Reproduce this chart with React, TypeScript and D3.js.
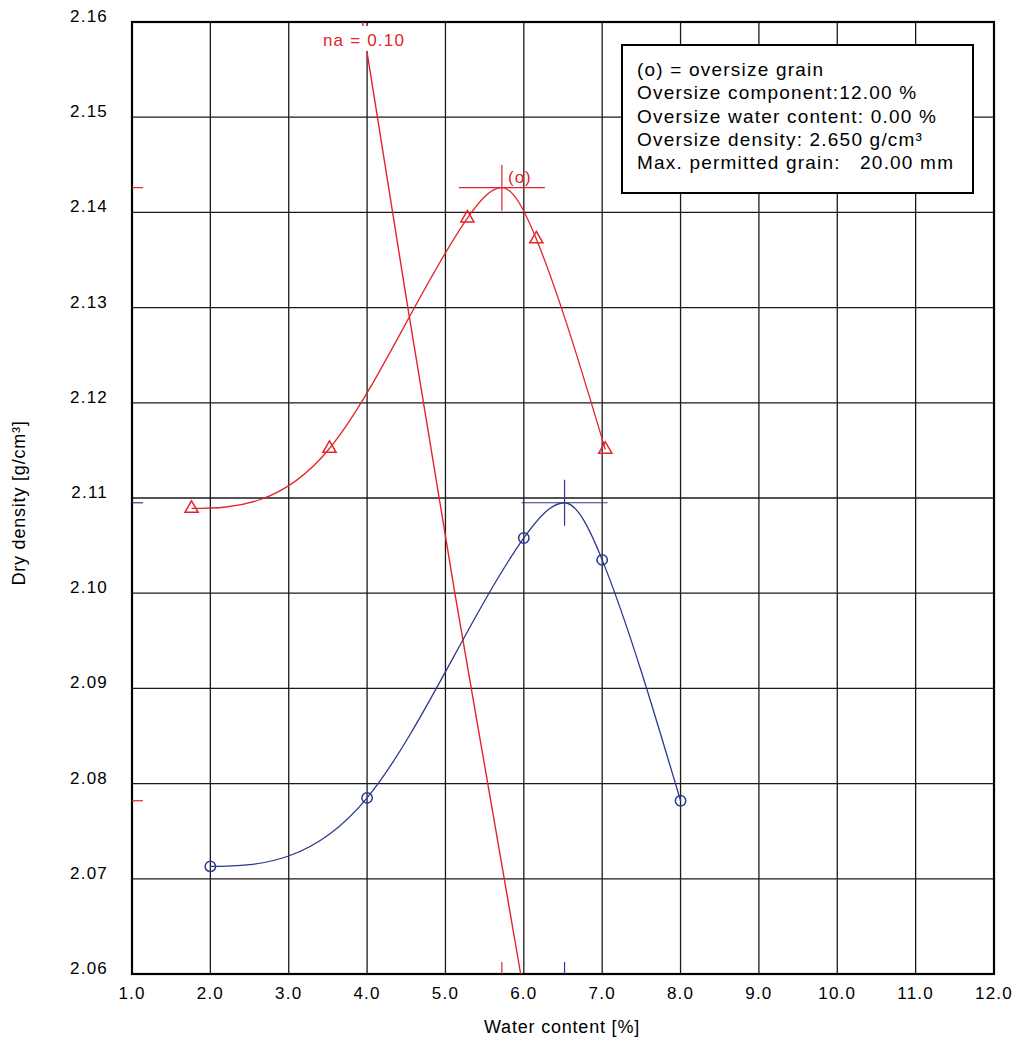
import React, { useEffect, useRef } from 'react';
import * as d3 from 'd3';

const RED = '#e3242b';
const BLUE = '#2b3990';

const xTicks = [1, 2, 3, 4, 5, 6, 7, 8, 9, 10, 11, 12];
const yTicks = [2.06, 2.07, 2.08, 2.09, 2.10, 2.11, 2.12, 2.13, 2.14, 2.15, 2.16];

// measured proctor points (blue circles)
const measuredW = [2.0, 4.0, 6.0, 7.0, 8.0];
const measuredRho = [2.0713, 2.0785, 2.1058, 2.1035, 2.0782];
const measuredMax = { w: 6.52, rho: 2.1095 };

// oversize corrected points (red triangles)
const correctedW = [1.76, 3.52, 5.28, 6.16, 7.04];
const correctedRho = [2.1089, 2.1152, 2.1394, 2.1372, 2.1151];
const correctedMax = { w: 5.72, rho: 2.1426 };

// air void line na = 0.10
const naW = [3.94, 4.0, 4.52, 5.12, 5.54, 5.96];
const naRho = [2.16, 2.1568, 2.13, 2.10, 2.08, 2.06];

// small marks on the axes
const leftMarks = [
  { v: 2.1426, c: RED },
  { v: 2.1095, c: BLUE },
  { v: 2.0782, c: RED },
];
const bottomMarks = [
  { v: 5.72, c: RED },
  { v: 6.52, c: BLUE },
];

const legendLines = [
  '(o) = oversize grain',
  'Oversize component:12.00 %',
  'Oversize water content: 0.00 %',
  'Oversize density: 2.650 g/cm³',
  'Max. permitted grain:   20.00 mm',
];

const W = 1016;
const H = 1041;
const FONT = '"Liberation Sans", Arial, Helvetica, sans-serif';

type Pt = [number, number];

// cubic spline tangents; start/end = fixed slope, or null for a natural end
function splineTangents(p: Pt[], start: number | null, end: number | null): number[] {
  const n = p.length;
  const h: number[] = [];
  const d: number[] = [];
  for (let i = 0; i < n - 1; i++) {
    h.push(p[i + 1][0] - p[i][0]);
    d.push((p[i + 1][1] - p[i][1]) / h[i]);
  }
  const A: number[][] = Array.from({ length: n }, () => new Array(n).fill(0));
  const b: number[] = new Array(n).fill(0);
  if (start === null) { A[0][0] = 2; A[0][1] = 1; b[0] = 3 * d[0]; } else { A[0][0] = 1; b[0] = start; }
  for (let i = 1; i < n - 1; i++) {
    A[i][i - 1] = 1 / h[i - 1];
    A[i][i] = 2 * (1 / h[i - 1] + 1 / h[i]);
    A[i][i + 1] = 1 / h[i];
    b[i] = 3 * (d[i - 1] / h[i - 1] + d[i] / h[i]);
  }
  if (end === null) { A[n - 1][n - 2] = 1; A[n - 1][n - 1] = 2; b[n - 1] = 3 * d[n - 2]; } else { A[n - 1][n - 1] = 1; b[n - 1] = end; }
  // gaussian elimination
  for (let i = 0; i < n; i++) {
    for (let k = i + 1; k < n; k++) {
      const f = A[k][i] / A[i][i];
      if (!f) continue;
      for (let j = i; j < n; j++) A[k][j] -= f * A[i][j];
      b[k] -= f * b[i];
    }
  }
  const m = new Array(n).fill(0);
  for (let i = n - 1; i >= 0; i--) {
    let s = b[i];
    for (let j = i + 1; j < n; j++) s -= A[i][j] * m[j];
    m[i] = s / A[i][i];
  }
  return m;
}

function addSpline(path: d3.Path, p: Pt[], start: number | null, end: number | null, move: boolean) {
  const m = splineTangents(p, start, end);
  if (move) path.moveTo(p[0][0], p[0][1]);
  for (let i = 0; i < p.length - 1; i++) {
    const dx = (p[i + 1][0] - p[i][0]) / 3;
    path.bezierCurveTo(
      p[i][0] + dx, p[i][1] + m[i] * dx,
      p[i + 1][0] - dx, p[i + 1][1] - m[i + 1] * dx,
      p[i + 1][0], p[i + 1][1],
    );
  }
}

export default function App() {
  const svgRef = useRef<SVGSVGElement>(null);

  useEffect(() => {
    if (!svgRef.current) return;
    const svg = d3.select(svgRef.current);
    svg.selectAll('*').remove();

    const margin = { top: 22, right: 22, bottom: 67, left: 132 };
    const x = d3.scaleLinear().domain([1, 12]).range([margin.left, W - margin.right]);
    const y = d3.scaleLinear().domain([2.06, 2.16]).range([H - margin.bottom, margin.top]);

    svg.append('rect').attr('width', W).attr('height', H).attr('fill', '#fff');

    // grid
    const grid = svg.append('g');
    grid.selectAll('.vx')
      .data(xTicks)
      .enter().append('line')
      .attr('x1', d => x(d)).attr('x2', d => x(d))
      .attr('y1', y(2.16)).attr('y2', y(2.06))
      .attr('stroke', '#1a1a1a').attr('stroke-width', 1.3);
    grid.selectAll('.hy')
      .data(yTicks)
      .enter().append('line')
      .attr('y1', d => y(d)).attr('y2', d => y(d))
      .attr('x1', x(1)).attr('x2', x(12))
      .attr('stroke', '#1a1a1a').attr('stroke-width', 1.3);

    // frame
    svg.append('rect')
      .attr('x', x(1)).attr('y', y(2.16))
      .attr('width', x(12) - x(1)).attr('height', y(2.06) - y(2.16))
      .attr('fill', 'none').attr('stroke', '#000').attr('stroke-width', 2.2);

    // tick labels
    svg.selectAll('.xl')
      .data(xTicks)
      .enter().append('text')
      .attr('x', d => x(d)).attr('y', 999)
      .attr('text-anchor', 'middle')
      .style('font-family', FONT).style('font-size', '17px').style('letter-spacing', '1.2px')
      .text(d => d.toFixed(1));
    svg.selectAll('.yl')
      .data(yTicks)
      .enter().append('text')
      .attr('x', 108).attr('y', d => y(d))
      .attr('text-anchor', 'end')
      .style('font-family', FONT).style('font-size', '17px').style('letter-spacing', '1.2px')
      .text(d => d.toFixed(2));

    // axis titles
    svg.append('text')
      .attr('x', 562).attr('y', 1033)
      .attr('text-anchor', 'middle')
      .style('font-family', FONT).style('font-size', '18px').style('letter-spacing', '0.8px')
      .text('Water content [%]');
    svg.append('text')
      .attr('transform', `translate(25,${503}) rotate(-90)`)
      .attr('text-anchor', 'middle')
      .style('font-family', FONT).style('font-size', '18px').style('letter-spacing', '0.8px')
      .text('Dry density [g/cm³]');

    // axis marks
    svg.selectAll('.lm')
      .data(leftMarks)
      .enter().append('line')
      .attr('x1', x(1)).attr('x2', x(1) + 11)
      .attr('y1', d => y(d.v)).attr('y2', d => y(d.v))
      .attr('stroke', d => d.c).attr('stroke-width', 1.2);
    svg.selectAll('.bm')
      .data(bottomMarks)
      .enter().append('line')
      .attr('x1', d => x(d.v)).attr('x2', d => x(d.v))
      .attr('y1', y(2.06)).attr('y2', y(2.06) - 12)
      .attr('stroke', d => d.c).attr('stroke-width', 1.2);

    const line = d3.line<Pt>()
      .x(d => x(d[0])).y(d => y(d[1]))
      .curve(d3.curveMonotoneX);

    // na line
    const naPts = naW.map((w, i) => [w, naRho[i]] as Pt);
    svg.append('path')
      .attr('d', line(naPts))
      .attr('fill', 'none').attr('stroke', RED).attr('stroke-width', 1.4);

    // na label
    svg.append('rect')
      .attr('x', 318).attr('y', 26).attr('width', 92).attr('height', 25)
      .attr('fill', '#fff');
    svg.append('text')
      .attr('x', 364).attr('y', 46)
      .attr('text-anchor', 'middle').attr('fill', RED)
      .style('font-family', FONT).style('font-size', '17px').style('letter-spacing', '1.2px')
      .text('na = 0.10');

    const drawSeries = (
      ws: number[], rhos: number[], mx: { w: number; rho: number }, color: string, marker: 'circle' | 'triangle',
    ) => {
      const pts = ws.map((w, i) => [w, rhos[i]] as Pt);
      const px = (d: Pt): Pt => [x(d[0]), y(d[1])];
      const left = pts.filter(d => d[0] < mx.w).map(px);
      const right = pts.filter(d => d[0] > mx.w).map(px);
      const peak = px([mx.w, mx.rho]);
      const p = d3.path();
      addSpline(p, [...left, peak], 0, 0, true);
      addSpline(p, [peak, ...right], 0, null, false);
      svg.append('path')
        .attr('d', p.toString())
        .attr('fill', 'none').attr('stroke', color).attr('stroke-width', 1.3);

      // cross at maximum
      const [cx, cy] = peak;
      svg.append('line')
        .attr('x1', cx - 43).attr('x2', cx + 43).attr('y1', cy).attr('y2', cy)
        .attr('stroke', color).attr('stroke-width', 1.2);
      svg.append('line')
        .attr('x1', cx).attr('x2', cx).attr('y1', cy - 23).attr('y2', cy + 23)
        .attr('stroke', color).attr('stroke-width', 1.2);

      if (marker === 'circle') {
        svg.selectAll(null)
          .data(pts)
          .enter().append('circle')
          .attr('cx', d => x(d[0])).attr('cy', d => y(d[1])).attr('r', 5.2)
          .attr('fill', 'none').attr('stroke', color).attr('stroke-width', 1.5);
      } else {
        const sym = d3.symbol().type(d3.symbolTriangle).size(75);
        svg.selectAll(null)
          .data(pts)
          .enter().append('path')
          .attr('d', sym()!)
          .attr('transform', d => `translate(${x(d[0])},${y(d[1])})`)
          .attr('fill', 'none').attr('stroke', color).attr('stroke-width', 1.5);
      }
    };

    drawSeries(measuredW, measuredRho, measuredMax, BLUE, 'circle');
    drawSeries(correctedW, correctedRho, correctedMax, RED, 'triangle');

    // (o) label
    svg.append('text')
      .attr('x', 508).attr('y', 183)
      .attr('fill', RED)
      .style('font-family', FONT).style('font-size', '17px').style('letter-spacing', '1px')
      .text('(o)');

    // legend box
    const lg = svg.append('g');
    lg.append('rect')
      .attr('x', 622).attr('y', 45).attr('width', 351).attr('height', 148)
      .attr('fill', '#fff').attr('stroke', '#000').attr('stroke-width', 2);
    lg.selectAll('text')
      .data(legendLines)
      .enter().append('text')
      .attr('x', 637).attr('y', (_, i) => 76 + i * 23.3)
      .style('font-family', FONT).style('font-size', '19px').style('letter-spacing', '1.2px')
      .style('white-space', 'pre')
      .text(d => d);
  }, []);

  return (
    <svg
      ref={svgRef}
      width={W}
      height={H}
      style={{ position: 'absolute', left: 0, top: 0, display: 'block' }}
    />
  );
}
